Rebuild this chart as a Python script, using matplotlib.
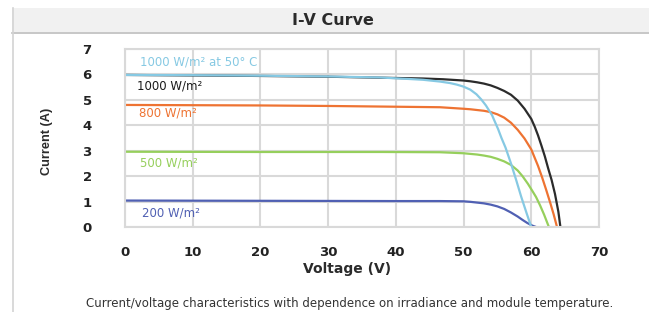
import matplotlib
matplotlib.use("Agg")
import matplotlib.pyplot as plt
from matplotlib.patches import Rectangle
from matplotlib.lines import Line2D

# ---- data ----
v_1000 = [0, 10, 20, 30, 38, 44, 47, 50, 51, 52, 53, 54, 55, 56, 57, 58, 59, 60,
          60.5, 61, 61.5, 62, 62.5, 63, 63.5, 64, 64.3]
i_1000 = [5.98, 5.96, 5.94, 5.91, 5.87, 5.84, 5.81, 5.76, 5.73, 5.69, 5.64, 5.57, 5.47, 5.35, 5.2, 4.97, 4.65, 4.25,
          3.95, 3.6, 3.2, 2.78, 2.3, 1.85, 1.3, 0.6, 0]

v_1000_50c = [0, 10, 20, 30, 37.6, 42, 44, 46.5, 48, 49, 50, 51, 51.9, 52.6, 53.3, 54.2, 55.1, 55.6,
              56.2, 57, 57.8, 58.5, 59.3, 60]
i_1000_50c = [5.98, 5.97, 5.95, 5.92, 5.88, 5.82, 5.79, 5.72, 5.66, 5.6, 5.52, 5.4, 5.22, 5.02, 4.78, 4.4, 3.85, 3.5,
              3.12, 2.5, 1.82, 1.2, 0.55, 0]

v_800 = [0, 10, 20, 30, 40, 46.5, 50, 51, 52, 53, 54, 55, 56, 57, 58, 59, 60, 61, 61.6, 62.2, 62.8, 63.3, 63.8]
i_800 = [4.80, 4.79, 4.78, 4.76, 4.73, 4.71, 4.65, 4.63, 4.60, 4.57, 4.52, 4.43, 4.3, 4.1, 3.82, 3.48, 3.05, 2.4,
         1.95, 1.46, 0.95, 0.5, 0]

v_500 = [0, 20, 38, 46.5, 50, 52, 53, 54, 55, 56, 57, 58, 58.7, 59.5, 60.2, 60.7, 61.3, 61.9, 62.6]
i_500 = [2.96, 2.95, 2.95, 2.94, 2.90, 2.85, 2.81, 2.76, 2.68, 2.58, 2.44, 2.22, 2.0, 1.7, 1.4, 1.18, 0.85, 0.48, 0]

v_200 = [0, 20, 40, 46.5, 50, 51, 52, 53, 54, 55, 56, 57, 58, 58.7, 59.4, 60.1, 60.7]
i_200 = [1.04, 1.03, 1.02, 1.02, 1.01, 0.99, 0.96, 0.93, 0.88, 0.81, 0.71, 0.57, 0.41, 0.28, 0.16, 0.06, 0]

labels = ["1000 W/m² at 50° C", "1000 W/m²", "800 W/m²", "500 W/m²", "200 W/m²"]
label_x = [2.2, 1.8, 2.0, 2.2, 2.5]
label_y = [6.49, 5.53, 4.48, 2.51, 0.54]

x_ticks = [0, 10, 20, 30, 40, 50, 60, 70]
y_ticks = [0, 1, 2, 3, 4, 5, 6, 7]

title = "I-V Curve"
x_label = "Voltage (V)"
y_label = "Current (A)"
caption = "Current/voltage characteristics with dependence on irradiance and module temperature."

c_cyan = "#86c9e3"
c_black = "#2b2b2b"
c_orange = "#ee7332"
c_green = "#96cf5c"
c_blue = "#5060b3"

W, H = 649, 312
fig = plt.figure(figsize=(W / 100, H / 100), dpi=100)
fig.patch.set_facecolor("white")

# frame: title band + left border
fig.patches.append(Rectangle((12 / W, 1 - 32 / H), 1, 24 / H, transform=fig.transFigure,
                             facecolor="#f1f1f1", edgecolor="none", zorder=0))
fig.lines.append(Line2D([12 / W, 1], [1 - 32.5 / H, 1 - 32.5 / H], transform=fig.transFigure,
                        color="#bdbdbd", lw=1.2))
fig.lines.append(Line2D([13 / W, 13 / W], [0, 1 - 8 / H], transform=fig.transFigure,
                        color="#d3d3d3", lw=1.2))

fig.text(333 / W, 1 - 20.5 / H, title, ha="center", va="center", fontsize=11.5,
         fontweight="bold", color="#2b2b2b", family=["DejaVu Sans"])

ax = fig.add_axes([125 / W, 1 - 227 / H, (599 - 125) / W, (227 - 49) / H])
ax.set_xlim(0, 70)
ax.set_ylim(0, 7)
ax.set_xticks(x_ticks)
ax.set_yticks(y_ticks)
ax.grid(True, color="#d9d9d9", lw=1.5)
ax.set_axisbelow(True)
for s in ax.spines.values():
    s.set_color("#d9d9d9")
    s.set_linewidth(1.5)
ax.tick_params(length=0, labelsize=9.5, pad=0, colors="#222222")
ax.tick_params(axis="x", pad=14)
ax.tick_params(axis="y", pad=24)
for lab in ax.get_xticklabels() + ax.get_yticklabels():
    lab.set_fontweight("bold")
    lab.set_family(["DejaVu Sans"])

lw = 1.6
ax.plot(v_200, i_200, color=c_blue, lw=lw, solid_capstyle="butt")
ax.plot(v_500, i_500, color=c_green, lw=lw, solid_capstyle="butt")
ax.plot(v_800, i_800, color=c_orange, lw=lw, solid_capstyle="butt")
ax.plot(v_1000, i_1000, color=c_black, lw=lw, solid_capstyle="butt")
ax.plot(v_1000_50c, i_1000_50c, color=c_cyan, lw=lw, solid_capstyle="butt")

label_colors = [c_cyan, "#1a1a1a", c_orange, c_green, c_blue]
for t, x, y, c in zip(labels, label_x, label_y, label_colors):
    ax.text(x, y, t, color=c, fontsize=8.5, ha="left", va="center",
            family=["DejaVu Sans"])

fig.text(347 / W, 1 - 269 / H, x_label, ha="center", va="center", fontsize=10,
         fontweight="bold", color="#2b2b2b", family=["DejaVu Sans"])
fig.text(47 / W, 1 - 141 / H, y_label, ha="center", va="center", rotation=90,
         fontsize=9.2, fontweight="bold", color="#2b2b2b",
         family=["Liberation Sans", "DejaVu Sans"])
fig.text(350 / W, 1 - 304 / H, caption, ha="center", va="center", fontsize=8.5,
         color="#333333", family=["DejaVu Sans"])

fig.savefig("out.png", dpi=100)
